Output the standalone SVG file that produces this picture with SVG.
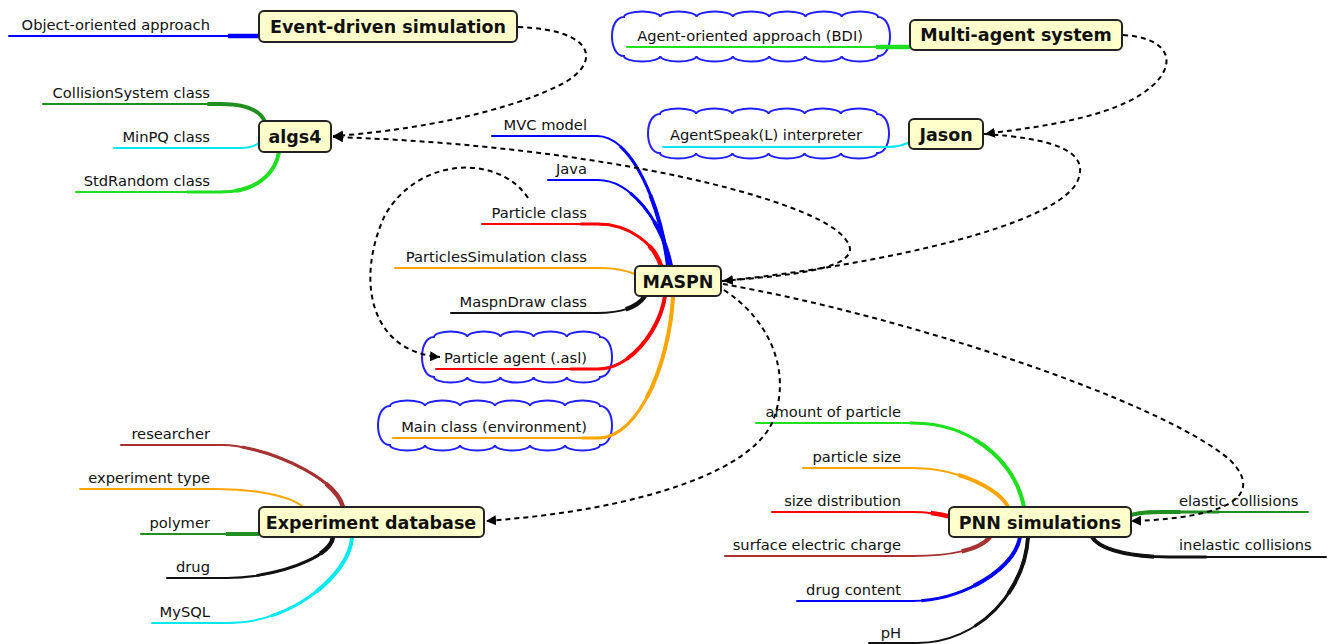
<svg xmlns="http://www.w3.org/2000/svg" width="1328" height="644" viewBox="0 0 1328 644">
<style>
.lbl{font-family:"DejaVu Sans",sans-serif;font-size:14.7px;fill:#111;text-anchor:end}
.lbs{font-family:"DejaVu Sans",sans-serif;font-size:14.7px;fill:#111;text-anchor:start}
.nt{font-family:"DejaVu Sans",sans-serif;font-size:17.5px;font-weight:bold;fill:#111;text-anchor:middle}
.box{fill:#ffffcc;stroke:#222;stroke-width:2}
.cloud{fill:none;stroke:#1f1fff;stroke-width:2}
.dash{fill:none;stroke:#000;stroke-width:2;stroke-dasharray:5,4;marker-end:url(#arr)}
.b{fill:none;stroke-width:2;stroke-linecap:round}
.t1{fill:none;stroke-width:3;stroke-dasharray:0 50 50}
.t2{fill:none;stroke-width:4;stroke-dasharray:0 72 28}
.t3{fill:none;stroke-width:4.5;stroke-dasharray:0 88 12}
</style>
<defs>
<marker id="arr" markerWidth="12" markerHeight="10" refX="10" refY="5" orient="auto" markerUnits="userSpaceOnUse"><path d="M0,0 L10,5 L0,10 z" fill="#000"/></marker>
</defs>
<rect width="1328" height="644" fill="#fff"/>

<g id="clouds">
<path class="cloud" d="M624,17 a18.14,5.5 0 0 1 36.29,0 a18.14,5.5 0 0 1 36.29,0 a18.14,5.5 0 0 1 36.29,0 a18.14,5.5 0 0 1 36.29,0 a18.14,5.5 0 0 1 36.29,0 a18.14,5.5 0 0 1 36.29,0 a18.14,5.5 0 0 1 36.29,0 C894,17 894,56 878,56 a18.14,5.5 0 0 1 -36.29,0 a18.14,5.5 0 0 1 -36.29,0 a18.14,5.5 0 0 1 -36.29,0 a18.14,5.5 0 0 1 -36.29,0 a18.14,5.5 0 0 1 -36.29,0 a18.14,5.5 0 0 1 -36.29,0 a18.14,5.5 0 0 1 -36.29,0 C608,56 608,17 624,17 Z"/>
<path class="cloud" d="M660,114 a18.08,5.5 0 0 1 36.17,0 a18.08,5.5 0 0 1 36.17,0 a18.08,5.5 0 0 1 36.17,0 a18.08,5.5 0 0 1 36.17,0 a18.08,5.5 0 0 1 36.17,0 a18.08,5.5 0 0 1 36.17,0 C893,114 893,153 877,153 a18.08,5.5 0 0 1 -36.17,0 a18.08,5.5 0 0 1 -36.17,0 a18.08,5.5 0 0 1 -36.17,0 a18.08,5.5 0 0 1 -36.17,0 a18.08,5.5 0 0 1 -36.17,0 a18.08,5.5 0 0 1 -36.17,0 C644,153 644,114 660,114 Z"/>
<path class="cloud" d="M434,337 a16.6,5.5 0 0 1 33.2,0 a16.6,5.5 0 0 1 33.2,0 a16.6,5.5 0 0 1 33.2,0 a16.6,5.5 0 0 1 33.2,0 a16.6,5.5 0 0 1 33.2,0 C616,337 616,377 600,377 a16.6,5.5 0 0 1 -33.2,0 a16.6,5.5 0 0 1 -33.2,0 a16.6,5.5 0 0 1 -33.2,0 a16.6,5.5 0 0 1 -33.2,0 a16.6,5.5 0 0 1 -33.2,0 C418,377 418,337 434,337 Z"/>
<path class="cloud" d="M390,406 a17.5,5.5 0 0 1 35,0 a17.5,5.5 0 0 1 35,0 a17.5,5.5 0 0 1 35,0 a17.5,5.5 0 0 1 35,0 a17.5,5.5 0 0 1 35,0 a17.5,5.5 0 0 1 35,0 C616,406 616,445 600,445 a17.5,5.5 0 0 1 -35,0 a17.5,5.5 0 0 1 -35,0 a17.5,5.5 0 0 1 -35,0 a17.5,5.5 0 0 1 -35,0 a17.5,5.5 0 0 1 -35,0 a17.5,5.5 0 0 1 -35,0 C374,445 374,406 390,406 Z"/>
</g>

<g id="branches">
<!-- Event-driven -->
<g stroke="#0000ff"><path class="b" d="M9,36 H258"/><path class="t3" pathLength="100" d="M9,36 H258"/></g>
<!-- algs4 -->
<g stroke="#1f8f1f"><path class="b" d="M43,104 H221 C245,104 260,110 265,122"/><path class="t2" pathLength="100" d="M43,104 H221 C245,104 260,110 265,122"/></g>
<g stroke="#00e8f0"><path class="b" d="M114,148 H240 C250,148 255,146 259,143"/></g>
<g stroke="#1ee01e"><path class="b" d="M76,192 H221 C255,192 275,175 279,152"/><path class="t1" pathLength="100" d="M76,192 H221 C255,192 275,175 279,152"/><path class="t2" pathLength="100" d="M76,192 H221 C255,192 275,175 279,152"/></g>
<!-- Multi-agent / Jason -->
<g stroke="#1ee01e"><path class="b" d="M627,47 H910"/><path class="t3" pathLength="100" d="M627,47 H910"/></g>
<g stroke="#00e8f0"><path class="b" d="M663,147 H888 C898,147 904,145 910,142"/></g>
<!-- MASPN -->
<g stroke="#0000ff"><path class="b" d="M492,136 H597 C630,136 660,200 668,266"/><path class="t1" pathLength="100" d="M492,136 H597 C630,136 660,200 668,266"/><path class="t2" pathLength="100" d="M492,136 H597 C630,136 660,200 668,266"/></g>
<g stroke="#0000ff"><path class="b" d="M548,180 H598 C630,180 662,220 671,266"/><path class="t1" pathLength="100" d="M548,180 H598 C630,180 662,220 671,266"/><path class="t2" pathLength="100" d="M548,180 H598 C630,180 662,220 671,266"/></g>
<g stroke="#ff0000"><path class="b" d="M482,224 H598 C630,224 655,245 661,266"/><path class="t1" pathLength="100" d="M482,224 H598 C630,224 655,245 661,266"/><path class="t3" pathLength="100" d="M482,224 H598 C630,224 655,245 661,266"/></g>
<g stroke="#ffa500"><path class="b" d="M395,268 H600 C615,268 625,270 635,274"/></g>
<g stroke="#111"><path class="b" d="M451,313 H597 C620,313 637,308 645,296"/><path class="t3" pathLength="100" d="M451,313 H597 C620,313 637,308 645,296"/></g>
<g stroke="#ff0000"><path class="b" d="M436,369 H598 C630,369 660,330 665,296"/><path class="t1" pathLength="100" d="M436,369 H598 C630,369 660,330 665,296"/><path class="t2" pathLength="100" d="M436,369 H598 C630,369 660,330 665,296"/></g>
<g stroke="#ffa500"><path class="b" d="M393,438 H598 C640,438 670,360 673,296"/><path class="t1" pathLength="100" d="M393,438 H598 C640,438 670,360 673,296"/><path class="t2" pathLength="100" d="M393,438 H598 C640,438 670,360 673,296"/></g>
<!-- Experiment database -->
<g stroke="#a83232"><path class="b" d="M121,445 H222 C260,445 335,475 343,507"/><path class="t1" pathLength="100" d="M121,445 H222 C260,445 335,475 343,507"/><path class="t3" pathLength="100" d="M121,445 H222 C260,445 335,475 343,507"/></g>
<g stroke="#ffa500"><path class="b" d="M80,489 H217 C250,489 290,495 303,507"/></g>
<g stroke="#1f8f1f"><path class="b" d="M141,534 H259"/><path class="t2" pathLength="100" d="M141,534 H259"/></g>
<g stroke="#111"><path class="b" d="M167,578 H227 C270,578 330,560 333,537"/><path class="t1" pathLength="100" d="M167,578 H227 C270,578 330,560 333,537"/><path class="t3" pathLength="100" d="M167,578 H227 C270,578 330,560 333,537"/></g>
<g stroke="#00e8f0"><path class="b" d="M152,623 H230 C290,623 350,575 352,537"/><path class="t1" pathLength="100" d="M152,623 H230 C290,623 350,575 352,537"/><path class="t2" pathLength="100" d="M152,623 H230 C290,623 350,575 352,537"/></g>
<!-- PNN simulations -->
<g stroke="#1ee01e"><path class="b" d="M756,423 H913 C970,423 1015,460 1024,507"/><path class="t1" pathLength="100" d="M756,423 H913 C970,423 1015,460 1024,507"/><path class="t2" pathLength="100" d="M756,423 H913 C970,423 1015,460 1024,507"/></g>
<g stroke="#ffa500"><path class="b" d="M803,468 H913 C960,468 1000,490 1008,507"/><path class="t2" pathLength="100" d="M803,468 H913 C960,468 1000,490 1008,507"/></g>
<g stroke="#ff0000"><path class="b" d="M772,512 H913 C930,512 940,514 952,517"/><path class="t3" pathLength="100" d="M772,512 H913 C930,512 940,514 952,517"/></g>
<g stroke="#a83232"><path class="b" d="M725,556 H913 C950,556 980,550 990,537"/><path class="t3" pathLength="100" d="M725,556 H913 C950,556 980,550 990,537"/></g>
<g stroke="#0000ff"><path class="b" d="M797,601 H913 C960,601 1015,570 1020,537"/><path class="t1" pathLength="100" d="M797,601 H913 C960,601 1015,570 1020,537"/><path class="t2" pathLength="100" d="M797,601 H913 C960,601 1015,570 1020,537"/></g>
<g stroke="#111"><path class="b" d="M869,643 H917 C980,643 1025,590 1028,537"/><path class="t1" pathLength="100" d="M869,643 H917 C980,643 1025,590 1028,537"/><path class="t2" pathLength="100" d="M869,643 H917 C980,643 1025,590 1028,537"/></g>
<g stroke="#1f8f1f"><path class="b" d="M1308,512 H1165 C1150,512 1140,512 1131,515"/><path class="t1" pathLength="100" d="M1308,512 H1165 C1150,512 1140,512 1131,515"/><path class="t2" pathLength="100" d="M1308,512 H1165 C1150,512 1140,512 1131,515"/></g>
<g stroke="#111"><path class="b" d="M1326,557 H1169 C1130,557 1100,550 1092,537"/><path class="t1" pathLength="100" d="M1326,557 H1169 C1130,557 1100,550 1092,537"/><path class="t2" pathLength="100" d="M1326,557 H1169 C1130,557 1100,550 1092,537"/></g>
</g>

<g id="connectors">
<path class="dash" d="M518,27 C600,30 600,65 560,85 C500,115 400,132 333,136"/>
<path class="dash" d="M1123,35 C1175,38 1180,70 1140,95 C1100,120 1030,128 985,134"/>
<path class="dash" d="M722,281 C780,276 870,270 846,240 C820,200 600,145 333,137"/>
<path class="dash" d="M984,134 C1050,138 1090,150 1078,180 C1060,225 880,265 723,281"/>
<path class="dash" d="M723,284 C900,315 1160,400 1230,460 C1265,495 1230,518 1131,521"/>
<path class="dash" d="M724,290 C770,320 790,370 775,415 C760,470 640,510 486,521"/>
<path class="dash" d="M528,198 C500,155 420,155 385,215 C355,280 370,352 440,357"/>
</g>

<g id="n-event"><rect class="box" x="259" y="11" width="258" height="31" rx="5"/><text class="nt" x="388" y="33">Event-driven simulation</text></g>
<g id="n-algs4"><rect class="box" x="259" y="121" width="72" height="31" rx="5"/><text class="nt" x="295" y="143">algs4</text></g>
<g id="n-multi"><rect class="box" x="910" y="20" width="212" height="30" rx="5"/><text class="nt" x="1016" y="41">Multi-agent system</text></g>
<g id="n-jason"><rect class="box" x="909" y="119" width="74" height="30" rx="5"/><text class="nt" x="946" y="141">Jason</text></g>
<g id="n-maspn"><rect class="box" x="635" y="266" width="86" height="30" rx="5"/><text class="nt" x="678" y="288">MASPN</text></g>
<g id="n-expdb"><rect class="box" x="259" y="507" width="225" height="30" rx="5"/><text class="nt" x="371" y="529">Experiment database</text></g>
<g id="n-pnn"><rect class="box" x="949" y="507" width="182" height="30" rx="5"/><text class="nt" x="1040" y="529">PNN simulations</text></g>

<g id="l-oo"><text class="lbl" x="210" y="30">Object-oriented approach</text></g>
<g id="l-coll"><text class="lbl" x="210" y="98">CollisionSystem class</text></g>
<g id="l-minpq"><text class="lbl" x="210" y="142">MinPQ class</text></g>
<g id="l-stdr"><text class="lbl" x="210" y="186">StdRandom class</text></g>
<g id="l-bdi"><text class="lbl" x="863" y="41">Agent-oriented approach (BDI)</text></g>
<g id="l-asl"><text class="lbl" x="862" y="140">AgentSpeak(L) interpreter</text></g>
<g id="l-mvc"><text class="lbl" x="587" y="130">MVC model</text></g>
<g id="l-java"><text class="lbl" x="587" y="174">Java</text></g>
<g id="l-pclass"><text class="lbl" x="587" y="218">Particle class</text></g>
<g id="l-psim"><text class="lbl" x="587" y="262">ParticlesSimulation class</text></g>
<g id="l-mdraw"><text class="lbl" x="587" y="307">MaspnDraw class</text></g>
<g id="l-pagent"><text class="lbl" x="587" y="363">Particle agent (.asl)</text></g>
<g id="l-main"><text class="lbl" x="587" y="432">Main class (environment)</text></g>
<g id="l-res"><text class="lbl" x="210" y="439">researcher</text></g>
<g id="l-etype"><text class="lbl" x="210" y="483">experiment type</text></g>
<g id="l-poly"><text class="lbl" x="210" y="528">polymer</text></g>
<g id="l-drug"><text class="lbl" x="210" y="572">drug</text></g>
<g id="l-mysql"><text class="lbl" x="210" y="617">MySQL</text></g>
<g id="l-amount"><text class="lbl" x="901" y="417">amount of particle</text></g>
<g id="l-psize"><text class="lbl" x="901" y="462">particle size</text></g>
<g id="l-sdist"><text class="lbl" x="901" y="506">size distribution</text></g>
<g id="l-surf"><text class="lbl" x="901" y="550">surface electric charge</text></g>
<g id="l-dcont"><text class="lbl" x="901" y="595">drug content</text></g>
<g id="l-ph"><text class="lbl" x="901" y="638">pH</text></g>
<g id="l-elastic"><text class="lbs" x="1179" y="506">elastic collisions</text></g>
<g id="l-inelastic"><text class="lbs" x="1179" y="550">inelastic collisions</text></g>
</svg>
